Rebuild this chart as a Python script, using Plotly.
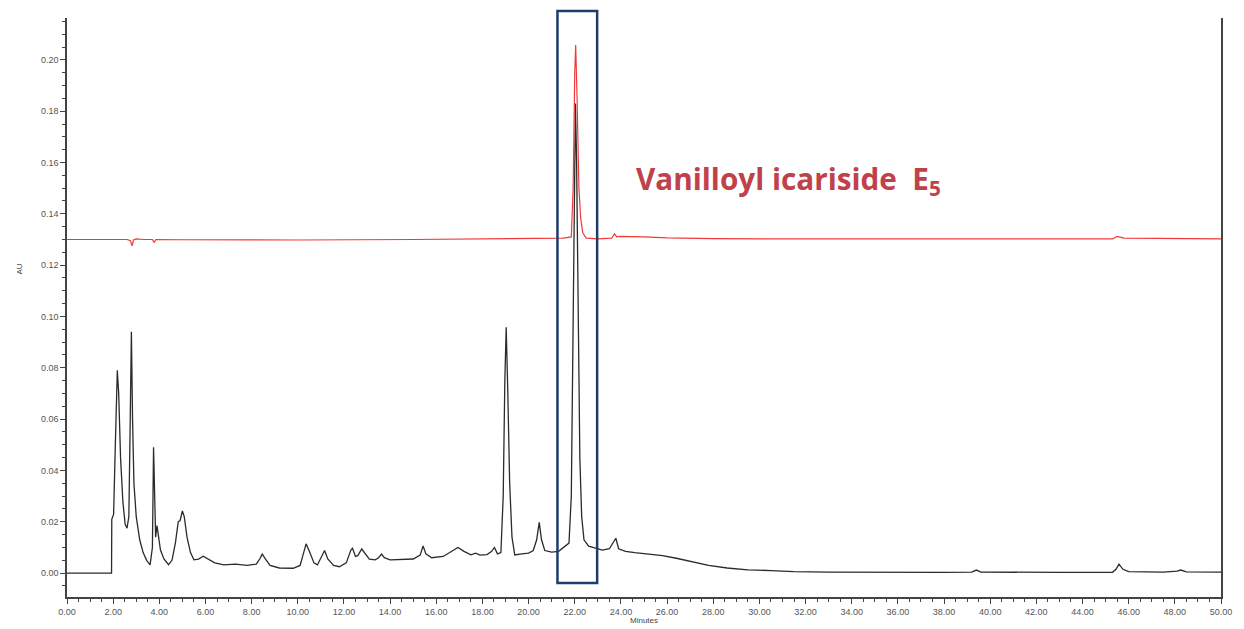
import plotly.graph_objects as go

# ---- data ----
black_t = [0, 1.93, 1.94, 2.02, 2.08, 2.14, 2.18, 2.24, 2.32, 2.42, 2.52, 2.60, 2.68, 2.74, 2.79, 2.84, 2.90,
           3.00, 3.15, 3.30, 3.45, 3.60, 3.70, 3.75, 3.80, 3.84, 3.90, 3.96, 4.05, 4.2, 4.4, 4.55, 4.7, 4.82,
           4.90, 5.0, 5.08, 5.2, 5.35, 5.5, 5.7, 5.9, 6.1, 6.4, 6.8, 7.3, 7.8, 8.2, 8.35, 8.46, 8.6, 8.8,
           9.2, 9.8, 10.1, 10.25, 10.36, 10.5, 10.7, 10.85, 11.0, 11.16, 11.3, 11.55, 11.8, 12.1, 12.3,
           12.37, 12.5, 12.6, 12.77, 12.9, 13.1, 13.35, 13.5, 13.63, 13.75, 14.0, 14.5, 15.0, 15.3, 15.43,
           15.55, 15.8, 16.3, 16.7, 16.94, 17.2, 17.5, 17.7, 17.9, 18.2, 18.4, 18.52, 18.65, 18.8, 18.9,
           18.97, 19.03, 19.1, 19.18, 19.28, 19.4, 19.7, 20.0, 20.2, 20.35, 20.46, 20.56, 20.7, 21.0, 21.3,
           21.6, 21.75, 21.85, 21.93, 22.0, 22.03, 22.08, 22.15, 22.22, 22.3, 22.4, 22.6, 22.9, 23.2, 23.5,
           23.65, 23.78, 23.9, 24.2, 24.6, 25.2, 25.8, 26.4, 27.0, 27.8, 28.6, 29.5, 30.5, 31.5, 33.0, 35.0,
           36.5, 38.0, 39.2, 39.4, 39.6, 41.0, 43.0, 45.3, 45.45, 45.58, 45.75, 46.0, 47.5, 48.1, 48.25,
           48.5, 50.0]
black_au = [0, 0, 0.021, 0.023, 0.045, 0.075, 0.079, 0.070, 0.045, 0.028, 0.019, 0.0175, 0.022, 0.06, 0.094,
            0.06, 0.035, 0.022, 0.013, 0.008, 0.005, 0.0032, 0.01, 0.049, 0.02, 0.014, 0.0185, 0.014, 0.009,
            0.0055, 0.0033, 0.005, 0.012, 0.020, 0.0205, 0.0242, 0.022, 0.014, 0.008, 0.0052, 0.0055, 0.0066,
            0.0055, 0.004, 0.0032, 0.0035, 0.003, 0.0035, 0.0055, 0.0074, 0.0055, 0.003, 0.002, 0.0019, 0.003,
            0.008, 0.0114, 0.0085, 0.004, 0.0032, 0.006, 0.0088, 0.0055, 0.003, 0.0025, 0.004, 0.009, 0.0097,
            0.0065, 0.0068, 0.0094, 0.008, 0.0055, 0.0052, 0.006, 0.0074, 0.006, 0.0052, 0.0053, 0.0055, 0.007,
            0.0106, 0.0075, 0.006, 0.0065, 0.0085, 0.010, 0.0085, 0.0071, 0.0078, 0.007, 0.0072, 0.0085, 0.010,
            0.0075, 0.008, 0.03, 0.075, 0.0958, 0.07, 0.035, 0.014, 0.0071, 0.0075, 0.0078, 0.0088, 0.013,
            0.0198, 0.013, 0.0088, 0.0082, 0.0085, 0.0105, 0.0117, 0.03, 0.10, 0.175, 0.183, 0.16, 0.09, 0.045,
            0.022, 0.013, 0.0105, 0.0098, 0.009, 0.0095, 0.0115, 0.0136, 0.0095, 0.0085, 0.008, 0.0075, 0.0068,
            0.0058, 0.0045, 0.003, 0.002, 0.0013, 0.001, 0.0006, 0.0004, 0.0003, 0.0002, 0.0003, 0.0004, 0.0012,
            0.0004, 0.0003, 0.0003, 0.0003, 0.0015, 0.0035, 0.0015, 0.0006, 0.0004, 0.0008, 0.0012, 0.0005,
            0.0004]

red_t = [0, 2.6, 2.75, 2.82, 2.88, 3.0, 3.3, 3.7, 3.78, 3.85, 5, 10, 15, 18, 20, 21.5, 21.85, 21.93, 22.0,
         22.04, 22.1, 22.18, 22.26, 22.35, 22.5, 23.0, 23.6, 23.72, 23.82, 24.0, 25.0, 26.0, 28.0, 30.0, 35,
         40, 45.3, 45.5, 45.8, 50]
red_au = [0.1300, 0.1300, 0.1295, 0.1275, 0.1298, 0.1302, 0.1300, 0.1300, 0.1288, 0.1300, 0.1299, 0.1298,
          0.1300, 0.1301, 0.1302, 0.1305, 0.131, 0.15, 0.195, 0.2058, 0.185, 0.15, 0.138, 0.1325, 0.1305,
          0.1302, 0.1305, 0.1322, 0.1310, 0.1312, 0.1310, 0.1306, 0.1303, 0.1302, 0.1302, 0.1302, 0.1302,
          0.1312, 0.1305, 0.1302]

label_text = "Vanilloyl icariside  E<sub>5</sub>"
box_x = [21.25, 22.97]
label_pos = (24.57, 0.153)

fig = go.Figure()
fig.add_trace(go.Scatter(x=black_t, y=black_au, mode="lines",
                         line=dict(color="#2b2b2b", width=1.3), showlegend=False))
fig.add_trace(go.Scatter(x=red_t, y=red_au, mode="lines",
                         line=dict(color="#f03a3a", width=1.2), showlegend=False))

fig.add_shape(type="rect", xref="x", yref="paper", x0=box_x[0], x1=box_x[1], y0=0.024, y1=1.012,
              line=dict(color="#1f3d6b", width=2.5), fillcolor="rgba(0,0,0,0)")

fig.add_annotation(x=label_pos[0], y=label_pos[1], xref="x", yref="y", text=label_text,
                   showarrow=False, xanchor="left", yanchor="middle",
                   font=dict(family="Open Sans", size=29.7, color="#c0414b", weight="bold"))
fig.add_annotation(x=0.5, y=0, xref="paper", yref="paper", text="Minutes", showarrow=False,
                   yanchor="middle", yshift=-23,
                   font=dict(family="Liberation Sans", size=8, color="#444"))
fig.add_annotation(x=-0.047, y=0.566, xref="paper", yref="paper", text="AU", showarrow=False,
                   textangle=-90, font=dict(family="Liberation Sans", size=8, color="#444"))

axis_font = dict(family="Liberation Sans", size=9, color="#555")
fig.update_xaxes(range=[0, 50], tickmode="linear", tick0=0, dtick=2, tickformat=".2f",
                 ticks="outside", ticklen=5, tickcolor="#444", showline=True, linecolor="#444",
                 linewidth=1.5, showgrid=False, zeroline=False, tickfont=axis_font,
                 minor=dict(dtick=0.5, ticks="outside", ticklen=3, tickcolor="#444"))
fig.update_yaxes(range=[-0.0093, 0.2163], tickmode="linear", tick0=0, dtick=0.02, tickformat=".2f",
                 ticks="outside", ticklen=5, tickcolor="#444", showline=True, linecolor="#444",
                 linewidth=1.5, mirror=True, showgrid=False, zeroline=False, tickfont=axis_font,
                 minor=dict(dtick=0.005, ticks="outside", ticklen=3, tickcolor="#444"))

fig.update_layout(width=1244, height=629, margin=dict(l=67, r=17, t=18, b=30),
                  plot_bgcolor="white", paper_bgcolor="white")
fig.write_html("out.html")
